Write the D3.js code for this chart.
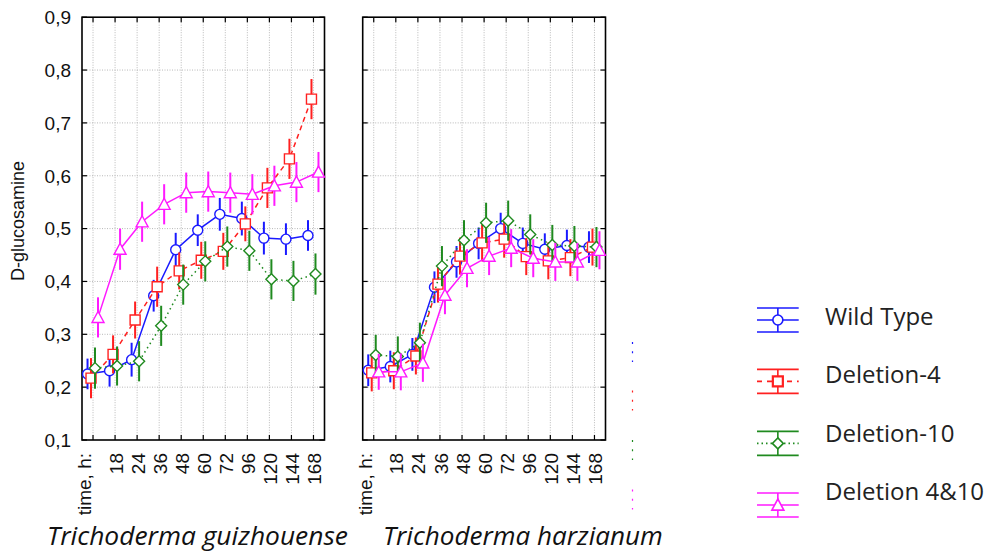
<!DOCTYPE html>
<html>
<head>
<meta charset="utf-8">
<script src="https://cdn.jsdelivr.net/npm/d3@7"></script>
<style>
  html, body { margin: 0; padding: 0; background: #fff; }
  svg { display: block; }
  .tk { font-family: "Liberation Sans", Arial, sans-serif; }
  .lg { font-family: "Open Sans", sans-serif; }
</style>
</head>
<body>
<svg id="chart" width="992" height="556"></svg>
<script>
// ---------------- DATA ----------------
const categories = ["time, h:", "18", "24", "36", "48", "60", "72", "96", "120", "144", "168"];
const yTickValues = [0.1, 0.2, 0.3, 0.4, 0.5, 0.6, 0.7, 0.8, 0.9];
const yTickLabels = ["0,1", "0,2", "0,3", "0,4", "0,5", "0,6", "0,7", "0,8", "0,9"];
const seriesNames = ["Wild Type", "Deletion-4", "Deletion-10", "Deletion 4&10"];
const panelTitles = ["Trichoderma guizhouense", "Trichoderma harzianum"];
const yAxisTitle = "D-glucosamine";

// Trichoderma guizhouense
const guizWT    = [0.225, 0.231, 0.252, 0.373, 0.460, 0.497, 0.527, 0.519, 0.482, 0.480, 0.487];
const guizD4    = [0.217, 0.262, 0.327, 0.390, 0.420, 0.440, 0.457, 0.509, 0.577, 0.632, 0.745];
const guizD10   = [0.236, 0.240, 0.249, 0.316, 0.394, 0.438, 0.466, 0.458, 0.404, 0.401, 0.414];
const guizD410  = [0.332, 0.461, 0.513, 0.546, 0.568, 0.570, 0.568, 0.565, 0.581, 0.588, 0.607];
const guizWTErr   = [0.029, 0.030, 0.032, 0.030, 0.032, 0.030, 0.031, 0.032, 0.031, 0.030, 0.029];
const guizD4Err   = [0.038, 0.036, 0.035, 0.038, 0.035, 0.035, 0.035, 0.033, 0.038, 0.038, 0.038];
const guizD10Err  = [0.039, 0.037, 0.038, 0.038, 0.038, 0.038, 0.038, 0.038, 0.038, 0.038, 0.039];
const guizD410Err = [0.038, 0.039, 0.038, 0.038, 0.038, 0.038, 0.038, 0.038, 0.038, 0.038, 0.038];

// Trichoderma harzianum
const harzWT    = [0.232, 0.239, 0.262, 0.389, 0.437, 0.472, 0.500, 0.472, 0.461, 0.468, 0.465];
const harzD4    = [0.227, 0.231, 0.259, 0.395, 0.448, 0.473, 0.480, 0.447, 0.439, 0.445, 0.465];
const harzD10   = [0.261, 0.258, 0.284, 0.429, 0.478, 0.511, 0.515, 0.489, 0.469, 0.467, 0.465];
const harzD410  = [0.229, 0.229, 0.246, 0.374, 0.425, 0.448, 0.463, 0.444, 0.437, 0.437, 0.459];
const harzWTErr   = [0.030, 0.030, 0.031, 0.030, 0.030, 0.030, 0.030, 0.030, 0.030, 0.030, 0.030];
const harzD4Err   = [0.035, 0.035, 0.035, 0.035, 0.035, 0.035, 0.035, 0.035, 0.035, 0.035, 0.035];
const harzD10Err  = [0.038, 0.038, 0.038, 0.038, 0.038, 0.038, 0.038, 0.038, 0.038, 0.038, 0.038];
const harzD410Err = [0.034, 0.035, 0.036, 0.036, 0.036, 0.036, 0.036, 0.036, 0.036, 0.036, 0.036];

// ---------------- STYLE ----------------
const seriesStyle = [
  { color: "#1a1aff", dash: null,   marker: "circle",   dx: -5.5 },
  { color: "#ff2020", dash: "5,4",  marker: "square",   dx: -2 },
  { color: "#1f8a1f", dash: "1.5,3.5", marker: "diamond", dx: 2 },
  { color: "#ff1aff", dash: null,   marker: "triangle", dx: 5 }
];
const panels = [
  { title: panelTitles[0], x0: 82, x1: 324.5, values: [guizWT, guizD4, guizD10, guizD410], errs: [guizWTErr, guizD4Err, guizD10Err, guizD410Err], titleX: 47, titleW: 301 },
  { title: panelTitles[1], x0: 362.7, x1: 605.5, values: [harzWT, harzD4, harzD10, harzD410], errs: [harzWTErr, harzD4Err, harzD10Err, harzD410Err], titleX: 383, titleW: 280 }
];
const yTop = 17.2, yBottom = 440;

const svg = d3.select("#chart");
const y = d3.scaleLinear().domain([0.1, 0.9]).range([yBottom, yTop]);

function markerPath(type, s) {
  const p = d3.path();
  if (type === "circle") { p.moveTo(s, 0); p.arc(0, 0, s, 0, 2 * Math.PI); }
  else if (type === "square") { p.rect(-s, -s, 2 * s, 2 * s); }
  else if (type === "diamond") { const d = s * 1.1; p.moveTo(0, -d); p.lineTo(d, 0); p.lineTo(0, d); p.lineTo(-d, 0); p.closePath(); }
  else { const w = s * 1.2; p.moveTo(0, -w); p.lineTo(w, w * 0.85); p.lineTo(-w, w * 0.85); p.closePath(); }
  return p.toString();
}

function fitText(sel, target) {
  const fs = parseFloat(sel.attr("font-size"));
  const w = sel.node().getComputedTextLength();
  if (w > 0) sel.attr("font-size", fs * target / w);
}

panels.forEach((pn, pi) => {
  const x = d3.scalePoint().domain(categories).range([pn.x0, pn.x1]).padding(0.5);
  const g = svg.append("g");

  // grid
  g.append("g").selectAll("line").data(categories).join("line")
    .attr("x1", d => x(d)).attr("x2", d => x(d)).attr("y1", yTop).attr("y2", yBottom)
    .attr("stroke", "#b8b8b8").attr("stroke-width", 1).attr("stroke-dasharray", "1,1.5");
  g.append("g").selectAll("line").data(yTickValues.slice(1, -1)).join("line")
    .attr("x1", pn.x0).attr("x2", pn.x1).attr("y1", d => y(d)).attr("y2", d => y(d))
    .attr("stroke", "#b8b8b8").attr("stroke-width", 1).attr("stroke-dasharray", "1,1.5");

  // inward ticks
  const tl = 5;
  g.append("g").selectAll("line").data(yTickValues).join("line")
    .attr("x1", pn.x0).attr("x2", pn.x0 + tl).attr("y1", d => y(d)).attr("y2", d => y(d))
    .attr("stroke", "#000").attr("stroke-width", 1.2);
  g.append("g").selectAll("line").data(yTickValues).join("line")
    .attr("x1", pn.x1).attr("x2", pn.x1 - tl).attr("y1", d => y(d)).attr("y2", d => y(d))
    .attr("stroke", "#000").attr("stroke-width", 1.2);
  g.append("g").selectAll("line").data(categories).join("line")
    .attr("x1", d => x(d)).attr("x2", d => x(d)).attr("y1", yTop).attr("y2", yTop + tl)
    .attr("stroke", "#000").attr("stroke-width", 1.2);
  g.append("g").selectAll("line").data(categories).join("line")
    .attr("x1", d => x(d)).attr("x2", d => x(d)).attr("y1", yBottom).attr("y2", yBottom - tl)
    .attr("stroke", "#000").attr("stroke-width", 1.2);

  // frame
  g.append("rect").attr("x", pn.x0).attr("y", yTop).attr("width", pn.x1 - pn.x0).attr("height", yBottom - yTop)
    .attr("fill", "none").attr("stroke", "#000").attr("stroke-width", 1.6);

  // x tick labels (rotated)
  g.append("g").selectAll("text").data(categories).join("text")
    .attr("class", "tk")
    .attr("transform", d => `translate(${x(d)},${yBottom + 13}) rotate(-90)`)
    .attr("text-anchor", "end")
    .attr("dy", (d, i) => i === 0 ? "-0.1em" : "0.4em")
    .attr("font-size", 19).attr("fill", "#111")
    .text(d => d);

  // y tick labels on left panel only
  if (pi === 0) {
    g.append("g").selectAll("text").data(yTickValues).join("text")
      .attr("class", "tk")
      .attr("x", pn.x0 - 11).attr("y", d => y(d)).attr("dy", "0.36em")
      .attr("text-anchor", "end")
      .attr("font-size", 19).attr("fill", "#111")
      .text((d, i) => yTickLabels[i]);
  }

  // series
  pn.values.forEach((vals, si) => {
    const st = seriesStyle[si];
    const errs = pn.errs[si];
    const sg = g.append("g");
    const pts = categories.map((c, i) => ({ c, v: vals[i], e: errs[i] }));
    const line = d3.line().x(d => x(d.c) + st.dx).y(d => y(d.v));
    sg.append("path").datum(pts).attr("d", line)
      .attr("fill", "none").attr("stroke", st.color).attr("stroke-width", 1.5)
      .attr("stroke-dasharray", st.dash);
    sg.append("g").selectAll("line").data(pts).join("line")
      .attr("x1", d => x(d.c) + st.dx).attr("x2", d => x(d.c) + st.dx)
      .attr("y1", d => y(d.v + d.e)).attr("y2", d => y(d.v - d.e))
      .attr("stroke", st.color).attr("stroke-width", 2);
    sg.append("g").selectAll("path").data(pts).join("path")
      .attr("transform", d => `translate(${x(d.c) + st.dx},${y(d.v)})`)
      .attr("d", markerPath(st.marker, 5))
      .attr("fill", "#fff").attr("stroke", st.color).attr("stroke-width", 1.4);
  });

  // panel title
  const t = svg.append("text")
    .attr("class", "lg")
    .attr("x", pn.titleX).attr("y", 545)
    .attr("font-style", "italic").attr("font-size", 24)
    .attr("fill", "#111").text(pn.title);
  fitText(t, pn.titleW);
});

// y axis title
svg.append("text")
  .attr("class", "tk")
  .attr("transform", "translate(18,221) rotate(-90)")
  .attr("text-anchor", "middle").attr("dy", "0.35em")
  .attr("font-size", 18).attr("fill", "#111")
  .text(yAxisTitle);

// small dotted artifacts
const artY = [342, 390.5, 440, 489.5];
seriesNames.forEach((n, i) => {
  svg.append("line").attr("x1", 632.5).attr("x2", 632.5)
    .attr("y1", artY[i]).attr("y2", artY[i] + 20)
    .attr("stroke", seriesStyle[i].color).attr("stroke-width", 1.2)
    .attr("stroke-dasharray", "2,7.3");
});

// legend
const legSymY = [320, 381.4, 443.4, 505];
const legTextY = [325, 383, 441.7, 500];
const lx0 = 757, lx1 = 798.7, lxc = (lx0 + lx1) / 2;
seriesNames.forEach((n, i) => {
  const st = seriesStyle[i];
  const lg = svg.append("g");
  const cy = legSymY[i];
  [-12, 12].forEach(off => {
    lg.append("line").attr("x1", lx0).attr("x2", lx1).attr("y1", cy + off).attr("y2", cy + off)
      .attr("stroke", st.color).attr("stroke-width", 1.6);
  });
  lg.append("line").attr("x1", lxc).attr("x2", lxc).attr("y1", cy - 12).attr("y2", cy + 12)
    .attr("stroke", st.color).attr("stroke-width", 1.6);
  lg.append("line").attr("x1", lx0).attr("x2", lx1).attr("y1", cy).attr("y2", cy)
    .attr("stroke", st.color).attr("stroke-width", 1.6)
    .attr("stroke-dasharray", i === 1 ? "5,5" : (i === 2 ? "1.5,3" : null));
  lg.append("path").attr("transform", `translate(${lxc},${cy})`)
    .attr("d", markerPath(st.marker, 5))
    .attr("fill", "#fff").attr("stroke", st.color).attr("stroke-width", i === 1 ? 2.2 : 1.6);
  lg.append("text").attr("class", "lg").attr("x", 825).attr("y", legTextY[i])
    .attr("font-size", 24).attr("fill", "#222").text(n);
});
</script>
</body>
</html>
